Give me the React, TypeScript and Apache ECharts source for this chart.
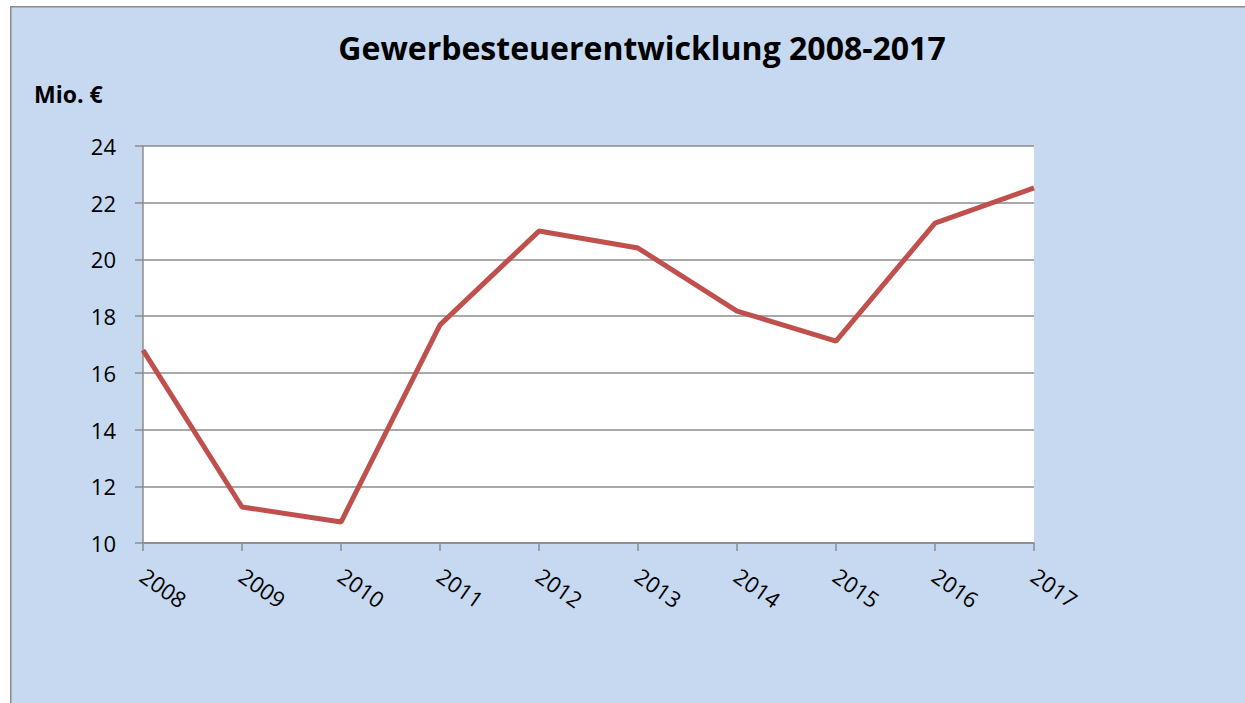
import React, { useEffect, useRef } from "react";
import * as echarts from "echarts";

const years = ["2008", "2009", "2010", "2011", "2012", "2013", "2014", "2015", "2016", "2017"];
const values = [16.8, 11.27, 10.74, 17.69, 21.0, 20.4, 18.18, 17.12, 21.28, 22.52];
const title = "Gewerbesteuerentwicklung 2008-2017";
const unit = "Mio. €";

export default function App() {
  const ref = useRef<HTMLDivElement>(null);
  useEffect(() => {
    document.body.style.margin = "0";
    document.body.style.overflow = "hidden";
    const chart = echarts.init(ref.current!, null, { renderer: "svg" });
    const font = "'Open Sans', 'Noto Sans', sans-serif";
    chart.setOption({
      animation: false,
      backgroundColor: "#C6D9F0",
      graphic: [
        {
          type: "rect",
          z: -10,
          shape: { x: 0, y: 0, width: 1245, height: 6 },
          style: { fill: "#ffffff" },
        },
        {
          type: "rect",
          z: -10,
          shape: { x: 0, y: 0, width: 10, height: 703 },
          style: { fill: "#ffffff" },
        },
        {
          type: "polyline",
          z: -9,
          shape: { points: [[10.75, 703], [10.75, 6.75], [1245, 6.75]] },
          style: { fill: null, stroke: "#8C8C8C", lineWidth: 1.5 },
        },
        {
          type: "text",
          left: 34,
          top: 82,
          style: { text: unit, font: `bold 23px ${font}`, fill: "#000" },
        },
      ],
      title: {
        text: title,
        left: 637,
        textAlign: "center",
        top: 26,
        textStyle: { fontFamily: font, fontWeight: "bold", fontSize: 32, color: "#000" },
      },
      grid: { left: 143, right: 211, top: 146, bottom: 160, show: true, backgroundColor: "#ffffff", borderWidth: 0 },
      xAxis: {
        type: "category",
        data: years,
        boundaryGap: false,
        axisLine: { lineStyle: { color: "#8C8C8C", width: 1.5 } },
        axisTick: { show: true, length: 8, alignWithLabel: true, lineStyle: { color: "#8C8C8C", width: 1.5 } },
        axisLabel: { rotate: -35, fontSize: 22, fontFamily: font, color: "#000", margin: 30 },
        splitLine: { show: false },
      },
      yAxis: {
        type: "value",
        min: 10,
        max: 24,
        interval: 2,
        axisLine: { show: true, lineStyle: { color: "#8C8C8C", width: 1.5 } },
        axisTick: { show: true, length: 8, lineStyle: { color: "#8C8C8C", width: 1.5 } },
        axisLabel: { fontSize: 22, fontFamily: font, color: "#000", margin: 27 },
        splitLine: { show: true, lineStyle: { color: "#8C8C8C", width: 1.5 } },
      },
      series: [
        {
          type: "line",
          data: values,
          symbol: "none",
          lineStyle: { color: "#C0504D", width: 5 },
        },
      ],
    });
    return () => chart.dispose();
  }, []);
  return <div ref={ref} style={{ width: 1245, height: 703 }} />;
}
